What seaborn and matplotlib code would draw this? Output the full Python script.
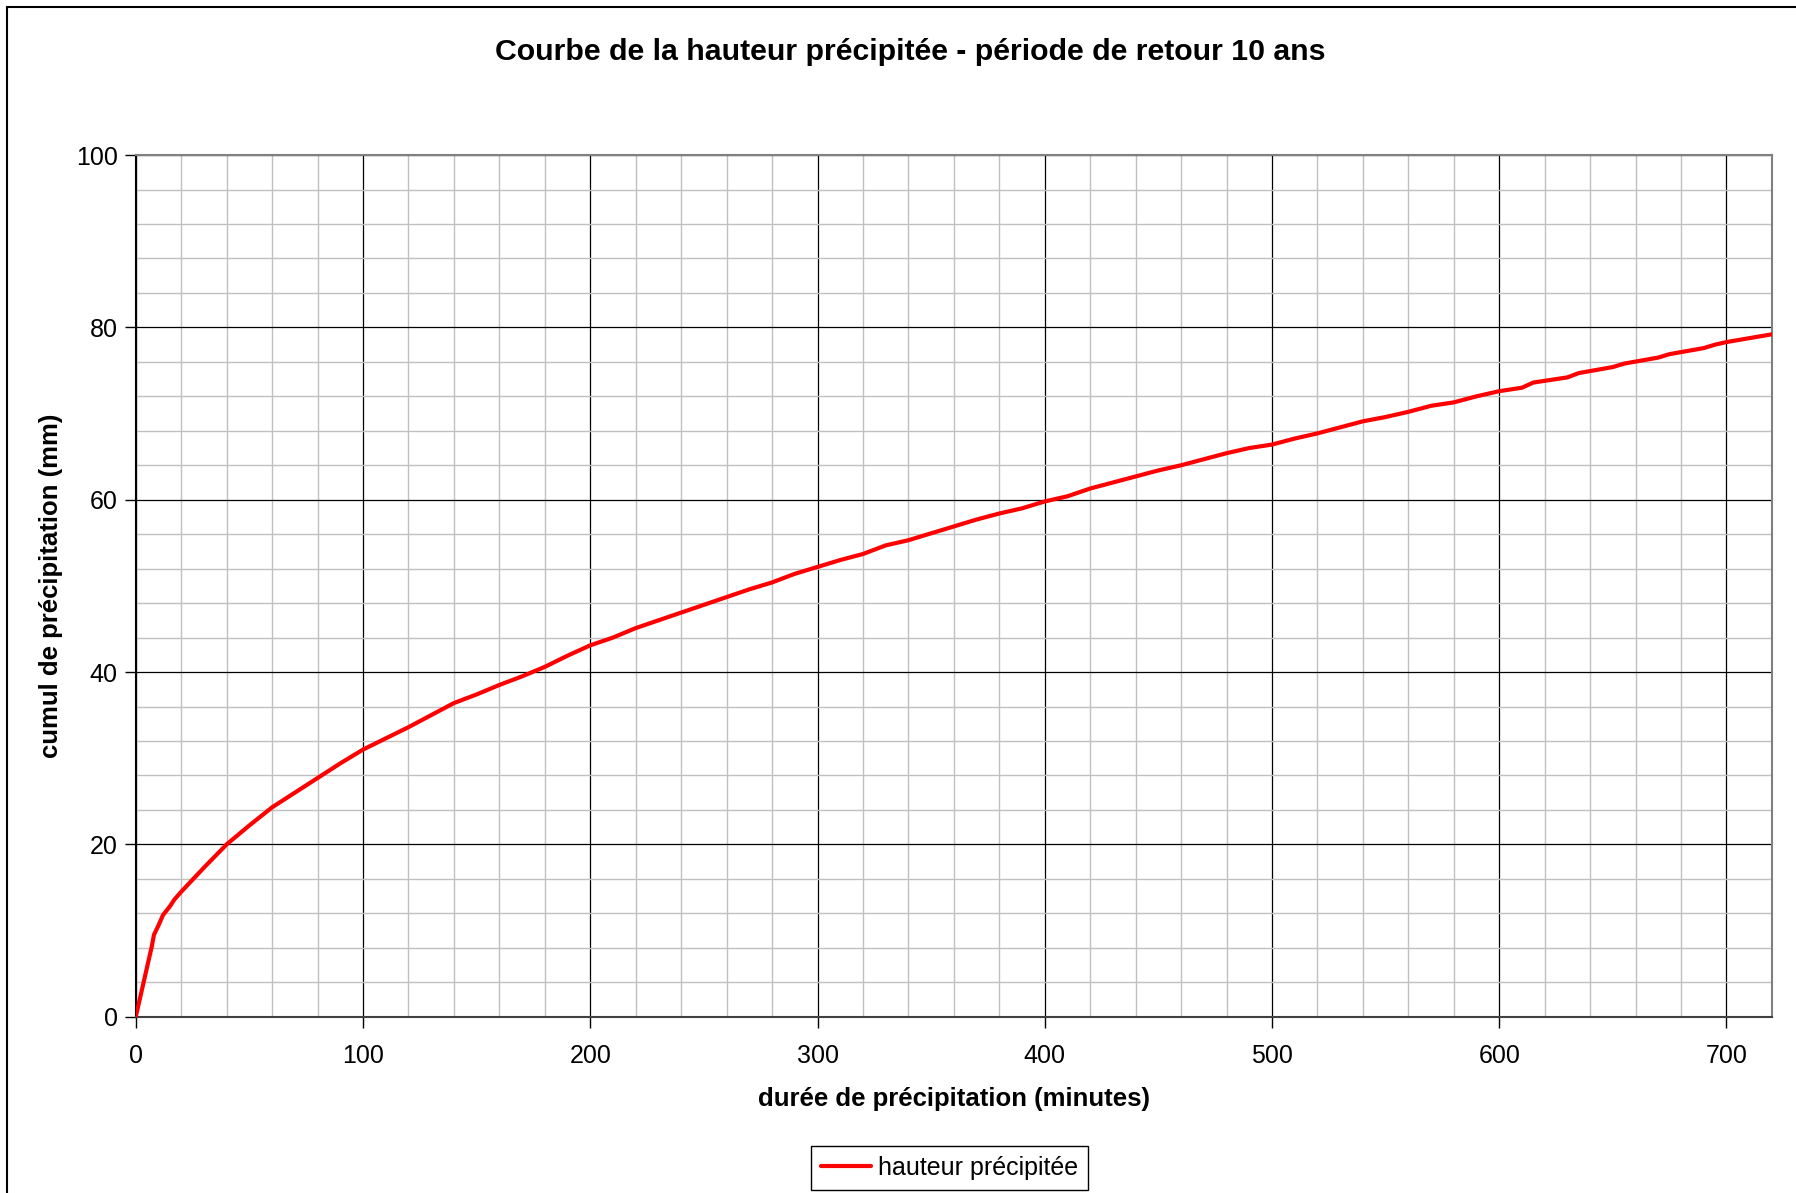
import numpy as np
import pandas as pd
import matplotlib
matplotlib.use("Agg")
import matplotlib.pyplot as plt
import seaborn as sns
from matplotlib.ticker import MultipleLocator
from matplotlib.patches import Rectangle

# --------------------------
# Data
# --------------------------
duree_min = [0, 7, 8, 10, 12, 15, 17, 20, 25, 30, 40, 50, 60, 70, 80, 90,
             100, 110, 120, 130, 140, 150, 160, 170, 180, 190, 200, 210,
             220, 230, 240, 250, 260, 270, 280, 290, 300, 310, 320, 330,
             340, 350, 360, 370, 380, 390, 400, 410, 420, 430, 440, 450,
             460, 470, 480, 490, 500, 510, 520, 530, 540, 550, 560, 570,
             580, 590, 600, 610, 615, 630, 635, 650, 655, 670, 675, 690,
             695, 700, 720]
hauteur_mm = [0, 8.1, 9.5, 10.6, 11.8, 12.8, 13.6, 14.5, 15.9, 17.3, 20.0,
              22.2, 24.3, 26.0, 27.7, 29.4, 31.0, 32.3, 33.6, 35.0, 36.4,
              37.4, 38.5, 39.5, 40.6, 41.9, 43.1, 44.0, 45.1, 46.0, 46.9,
              47.8, 48.7, 49.6, 50.4, 51.4, 52.2, 53.0, 53.7, 54.7, 55.3,
              56.1, 56.9, 57.7, 58.4, 59.0, 59.8, 60.4, 61.3, 62.0, 62.7,
              63.4, 64.0, 64.7, 65.4, 66.0, 66.4, 67.1, 67.7, 68.4, 69.1,
              69.6, 70.2, 70.9, 71.3, 72.0, 72.6, 73.0, 73.6, 74.2, 74.7,
              75.4, 75.8, 76.5, 76.9, 77.6, 78.0, 78.3, 79.2]

df = pd.DataFrame({"duree": duree_min, "hauteur": hauteur_mm})

# --------------------------
# Style
# --------------------------
sns.set_style("white")
plt.rcParams["font.family"] = ["Liberation Sans", "DejaVu Sans"]
plt.rcParams["text.color"] = "black"
plt.rcParams["axes.labelcolor"] = "black"
plt.rcParams["xtick.color"] = "black"
plt.rcParams["ytick.color"] = "black"

fig = plt.figure(figsize=(17.96, 11.93), dpi=100)
ax = fig.add_axes([0.0756, 0.1478, 0.911, 0.7222])

sns.lineplot(data=df, x="duree", y="hauteur", ax=ax, color="#ff0000",
             linewidth=3.0, label="hauteur précipitée", zorder=5)

ax.set_xlim(0, 720)
ax.set_ylim(0, 100)
ax.xaxis.set_major_locator(MultipleLocator(100))
ax.xaxis.set_minor_locator(MultipleLocator(20))
ax.yaxis.set_major_locator(MultipleLocator(20))
ax.yaxis.set_minor_locator(MultipleLocator(4))

ax.grid(which="minor", color="#c0c0c0", linewidth=1.0)
ax.grid(which="major", color="#000000", linewidth=0.9)
ax.set_axisbelow(True)

ax.tick_params(which="major", direction="out", length=8, width=1,
               color="black", labelsize=18, left=True, bottom=True)
ax.tick_params(axis="x", which="major", pad=12)
ax.tick_params(axis="y", which="major", pad=5)
ax.tick_params(which="minor", length=0)

for side in ["top", "right"]:
    ax.spines[side].set_color("#808080")
    ax.spines[side].set_linewidth(1.5)
ax.spines["left"].set_color("black")
ax.spines["left"].set_linewidth(1.5)
ax.spines["bottom"].set_color("#404040")
ax.spines["bottom"].set_linewidth(1.5)

ax.set_xlabel("durée de précipitation (minutes)", fontsize=18.5,
              fontweight="bold", labelpad=13.5)
ax.set_ylabel("cumul de précipitation (mm)", fontsize=18.5,
              fontweight="bold", labelpad=9)

fig.suptitle("Courbe de la hauteur précipitée - période de retour 10 ans",
             fontsize=21.8, fontweight="bold", x=0.507, y=0.956, va="center")

ax.legend(loc="center", bbox_to_anchor=(0.5286, 0.0211),
          bbox_transform=fig.transFigure, fontsize=18, frameon=True,
          fancybox=False, edgecolor="black", framealpha=1,
          handlelength=2.0, borderpad=0.4, handletextpad=0.3)
ax.get_legend().get_frame().set_linewidth(1.0)

# outer chart frame
fig.patches.append(Rectangle((7 / 1796, -0.01), 1.05, 1 - 7 / 1193 + 0.01,
                             transform=fig.transFigure, fill=False,
                             edgecolor="black", linewidth=1.5))

plt.savefig("out.png", dpi=100)
